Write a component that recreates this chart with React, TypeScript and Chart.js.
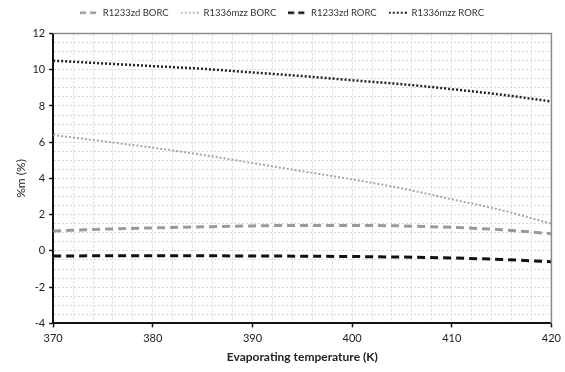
import React, { useEffect, useRef } from "react";
import { Chart, registerables } from "chart.js";

Chart.register(...registerables);

const temps = [370, 375, 380, 385, 390, 395, 400, 405, 410, 415, 420];
const r1233zdBORC = [1.1, 1.2, 1.27, 1.33, 1.38, 1.41, 1.41, 1.38, 1.3, 1.17, 0.95];
const r1336mzzBORC = [6.4, 6.05, 5.7, 5.3, 4.85, 4.4, 3.95, 3.45, 2.85, 2.25, 1.5];
const r1233zdRORC = [-0.28, -0.27, -0.27, -0.27, -0.28, -0.29, -0.31, -0.34, -0.39, -0.47, -0.6];
const r1336mzzRORC = [10.5, 10.35, 10.2, 10.05, 9.85, 9.65, 9.42, 9.2, 8.93, 8.62, 8.25];

const seriesLabels = ["R1233zd BORC", "R1336mzz BORC", "R1233zd RORC", "R1336mzz RORC"];
const xTitle = "Evaporating temperature (K)";
const yTitle = "%m (%)";

const FONT = "Lato, 'Open Sans', sans-serif";

const toPts = (ys: number[]) => ys.map((y, i) => ({ x: temps[i], y }));

function legendSymbol(color: string, width: number, dash: number[], lw: number) {
  const c = document.createElement("canvas");
  c.width = 18;
  c.height = 6;
  const ctx = c.getContext("2d")!;
  ctx.strokeStyle = color;
  ctx.lineWidth = lw;
  ctx.setLineDash(dash);
  ctx.beginPath();
  ctx.moveTo(0, 3);
  ctx.lineTo(width, 3);
  ctx.stroke();
  return c;
}

const frame = {
  id: "frame",
  afterDatasetsDraw(chart: any) {
    const { ctx, chartArea: a } = chart;
    ctx.save();
    ctx.strokeStyle = "#8c8c8c";
    ctx.lineWidth = 1.5;
    ctx.beginPath();
    ctx.moveTo(a.left, a.top);
    ctx.lineTo(a.right, a.top);
    ctx.lineTo(a.right, a.bottom);
    ctx.stroke();
    ctx.restore();
  },
};

const legendMargin = {
  id: "legendMargin",
  beforeInit(chart: any) {
    const lg = chart.legend;
    if (!lg) return;
    const orig = lg.fit;
    lg.fit = function () {
      orig.call(this);
      this.height += 6;
    };
  },
};

export default function App() {
  const ref = useRef<HTMLCanvasElement | null>(null);

  useEffect(() => {
    if (!ref.current) return;
    const common = { pointRadius: 0, pointHoverRadius: 0, fill: false, tension: 0.4, cubicInterpolationMode: "monotone" as const };
    const chart = new Chart(ref.current, {
      type: "line",
      data: {
        datasets: [
          { ...common, label: seriesLabels[0], data: toPts(r1233zdBORC), borderColor: "#9a9a9a", backgroundColor: "#9a9a9a", borderWidth: 3, borderDash: [8, 5], pointStyle: legendSymbol("#9a9a9a", 18, [6, 4], 2.5) as any },
          { ...common, label: seriesLabels[1], data: toPts(r1336mzzBORC), borderColor: "#a6a6a6", backgroundColor: "#a6a6a6", borderWidth: 2, borderDash: [2, 2], pointStyle: legendSymbol("#a6a6a6", 18, [2, 2], 1.5) as any },
          { ...common, label: seriesLabels[2], data: toPts(r1233zdRORC), borderColor: "#111111", backgroundColor: "#111111", borderWidth: 3, borderDash: [8, 5], pointStyle: legendSymbol("#111111", 18, [6, 4], 2.5) as any },
          { ...common, label: seriesLabels[3], data: toPts(r1336mzzRORC), borderColor: "#222222", backgroundColor: "#222222", borderWidth: 2.5, borderDash: [2, 2], pointStyle: legendSymbol("#222222", 18, [2, 2], 2) as any },
        ],
      },
      options: {
        animation: false,
        responsive: false,
        maintainAspectRatio: false,
        layout: { padding: { left: 0, right: 1, top: -4, bottom: 8 } },
        plugins: {
          tooltip: { enabled: false },
          legend: {
            position: "top",
            align: "center",
            labels: {
              usePointStyle: true,
              pointStyleWidth: 18,
              boxHeight: 6,
              padding: 12,
              color: "#333",
              font: { family: FONT, size: 9.5 },
            },
          },
        },
        scales: {
          x: {
            type: "linear",
            min: 370,
            max: 420,
            ticks: {
              stepSize: 2,
              autoSkip: false,
              maxRotation: 0,
              color: "#222",
              font: { family: FONT, size: 11 },
              padding: 4,
              callback: (v: any) => (Number(v) % 10 === 0 ? String(v) : ""),
            },
            grid: {
              color: "#d9d9d9",
              lineWidth: 1,
              tickLength: 4,
              tickColor: (c: any) => (c.tick && c.tick.value % 10 === 0 ? "#111" : "rgba(0,0,0,0)"),
              tickWidth: 1.5,
            },
            border: { display: true, color: "#111", width: 2, dash: [2, 2] },
            title: { display: true, text: xTitle, color: "#222", font: { family: FONT, size: 12, weight: "bold" }, padding: { top: 1, bottom: 0 } },
          },
          y: {
            type: "linear",
            min: -4,
            max: 12,
            ticks: {
              stepSize: 0.5,
              autoSkip: false,
              color: "#222",
              font: { family: FONT, size: 11 },
              padding: 4,
              callback: (v: any) => (Number(v) % 2 === 0 ? String(v) : ""),
            },
            grid: {
              color: "#d9d9d9",
              lineWidth: 1,
              tickLength: 4,
              tickColor: (c: any) => (c.tick && c.tick.value % 2 === 0 ? "#111" : "rgba(0,0,0,0)"),
              tickWidth: 1.5,
            },
            border: { display: true, color: "#111", width: 2, dash: [2, 2] },
            title: { display: true, text: yTitle, color: "#222", font: { family: FONT, size: 12 }, padding: { top: 14, bottom: 0 } },
          },
        },
      },
      plugins: [frame, legendMargin],
    });
    return () => chart.destroy();
  }, []);

  return (
    <div style={{ position: "fixed", left: 0, top: 0, width: 565, height: 372, background: "#fff" }}>
      <canvas ref={ref} width={565} height={372} style={{ display: "block" }} />
    </div>
  );
}
